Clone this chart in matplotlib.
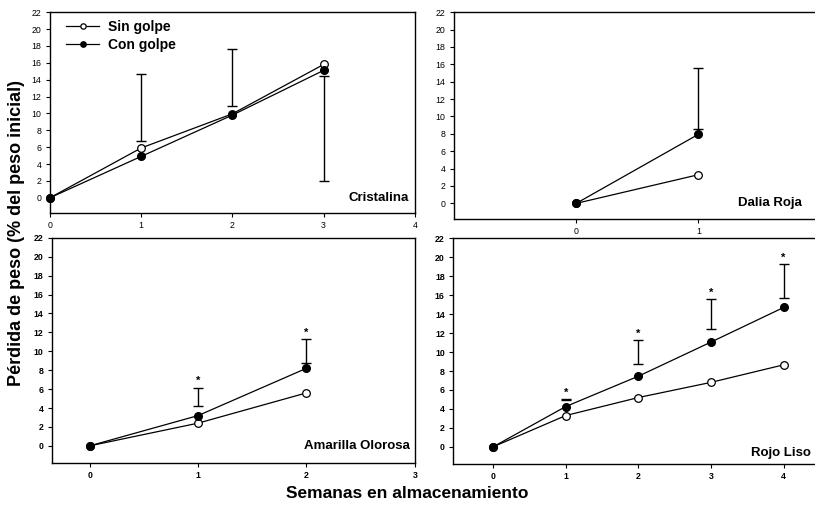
import matplotlib
matplotlib.use("Agg")
from matplotlib import pyplot as plt

plt.rcParams["font.family"] = ["Liberation Sans", "DejaVu Sans"]

# Cristalina
cr_weeks = [0, 1, 2, 3]
cr_sin = [0, 5.9, 9.95, 15.8]
cr_con = [0, 4.9, 9.8, 15.1]
cr_bar_weeks = [1, 2, 3]
cr_bar_low = [6.75, 10.85, 1.95]
cr_bar_high = [14.65, 17.65, 14.45]

# Dalia Roja
dr_weeks = [0, 1]
dr_sin = [0, 3.3]
dr_con = [0, 7.95]
dr_bar_weeks = [1]
dr_bar_low = [8.6]
dr_bar_high = [15.6]

# Amarilla Olorosa
ao_weeks = [0, 1, 2]
ao_sin = [0, 2.4, 5.6]
ao_con = [0, 3.2, 8.2]
ao_bar_weeks = [1, 2]
ao_bar_low = [4.25, 8.75]
ao_bar_high = [6.15, 11.25]

# Rojo Liso
rl_weeks = [0, 1, 2, 3, 4]
rl_sin = [0, 3.3, 5.2, 6.8, 8.65]
rl_con = [0, 4.25, 7.45, 11.05, 14.7]
rl_bar_weeks = [1, 2, 3, 4]
rl_bar_low = [4.95, 8.75, 12.4, 15.7]
rl_bar_high = [5.05, 11.25, 15.55, 19.3]

y_ticks = list(range(0, 23, 2))

fig = plt.figure(figsize=(8.15, 5.07), dpi=100)


def panel(rect, weeks, sin, con, bw, lo, hi, xlim, xticks, name, name_xy,
          bold_ticks, stars=False, right_spine=True):
    ax = fig.add_axes(rect)
    ax.plot(weeks, sin, "-o", color="black", lw=0.9, ms=5.5,
            mfc="white", mec="black", mew=0.9, clip_on=False, zorder=3,
            label="Sin golpe")
    ax.plot(weeks, con, "-o", color="black", lw=0.9, ms=5.5,
            mfc="black", mec="black", clip_on=False, zorder=4,
            label="Con golpe")
    mid = [(a + b) / 2 for a, b in zip(lo, hi)]
    half = [(b - a) / 2 for a, b in zip(lo, hi)]
    ax.errorbar(bw, mid, yerr=half, fmt="none", ecolor="black",
                elinewidth=1.0, capsize=3.5, capthick=1.0, zorder=2)
    if stars:
        for x, h in zip(bw, hi):
            ax.annotate("*", (x, h), xytext=(0, 1), textcoords="offset points",
                        ha="center", va="bottom", fontsize=8, fontweight="bold")
    ax.set_xlim(*xlim)
    ax.set_ylim(-1.8, 22)
    ax.set_xticks(xticks)
    ax.set_yticks(y_ticks)
    w = "bold" if bold_ticks else "normal"
    for lab in ax.get_xticklabels() + ax.get_yticklabels():
        lab.set_fontsize(6.3)
        lab.set_fontweight(w)
    ax.tick_params(direction="out", length=3, width=0.8, pad=3)
    for s in ax.spines.values():
        s.set_linewidth(1.0)
    if not right_spine:
        ax.spines["right"].set_visible(False)
    ax.text(name_xy[0], name_xy[1], name, transform=ax.transAxes,
            ha="right", va="center", fontsize=9.5, fontweight="bold")
    return ax


ax1 = panel([0.0613, 0.580, 0.4477, 0.396], cr_weeks, cr_sin, cr_con,
            cr_bar_weeks, cr_bar_low, cr_bar_high, (0, 4), [0, 1, 2, 3, 4],
            "Cristalina", (0.985, 0.075), False)
ax1.legend(loc="upper left", bbox_to_anchor=(0.01, 1.025), frameon=False,
           prop={"weight": "bold", "size": 10}, handlelength=2.4,
           markerscale=0.7, labelspacing=0.3, handletextpad=0.6)

panel([0.557, 0.568, 0.45, 0.408], dr_weeks, dr_sin, dr_con,
      dr_bar_weeks, dr_bar_low, dr_bar_high, (-1, 2), [0, 1],
      "Dalia Roja", (0.95, 0.077), False, right_spine=False)

panel([0.0634, 0.087, 0.4456, 0.444], ao_weeks, ao_sin, ao_con,
      ao_bar_weeks, ao_bar_low, ao_bar_high, (-0.35, 3), [0, 1, 2, 3],
      "Amarilla Olorosa", (0.985, 0.074), True, stars=True)

panel([0.556, 0.085, 0.45, 0.445], rl_weeks, rl_sin, rl_con,
      rl_bar_weeks, rl_bar_low, rl_bar_high, (-0.55, 4.5), [0, 1, 2, 3, 4],
      "Rojo Liso", (0.975, 0.05), True, stars=True, right_spine=False)

fig.text(0.02, 0.54, "Pérdida de peso (% del peso inicial)", rotation=90,
         ha="center", va="center", fontsize=13, fontweight="bold")
fig.text(0.5, 0.026, "Semanas en almacenamiento", ha="center", va="center",
         fontsize=12.5, fontweight="bold")

fig.savefig("out.png", dpi=100)
